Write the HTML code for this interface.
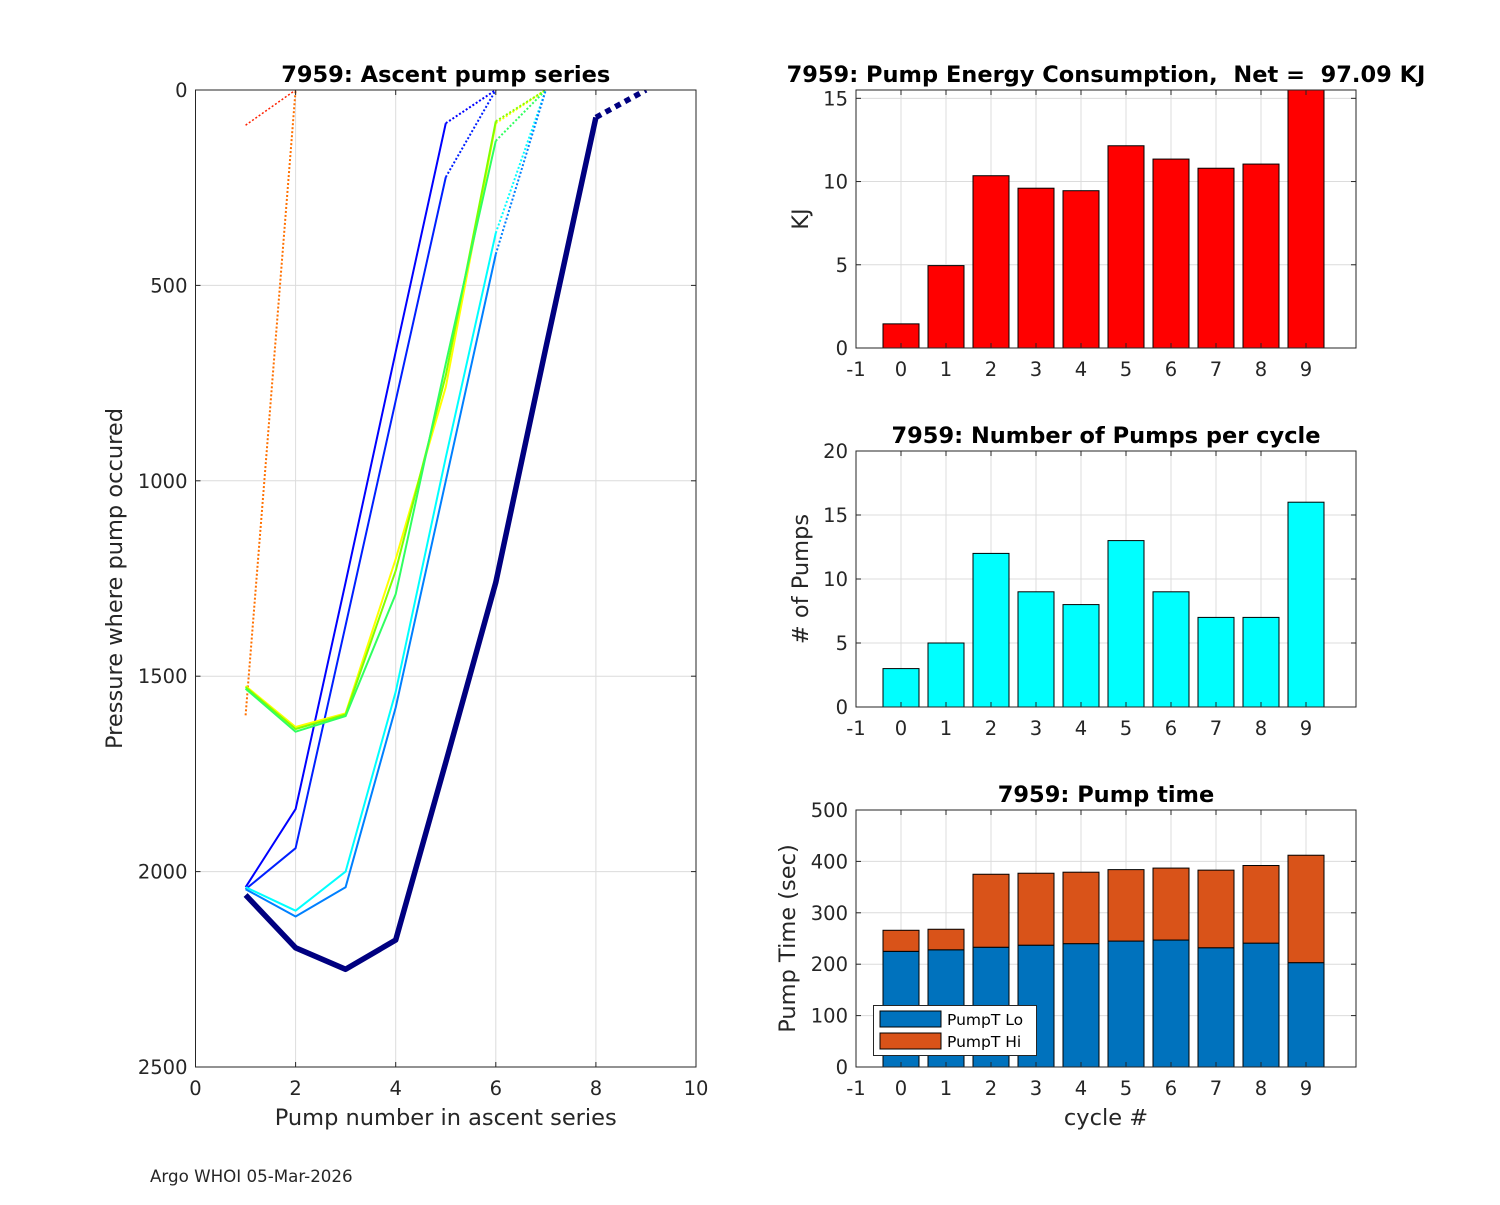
<!DOCTYPE html>
<html><head><meta charset="utf-8">
<style>
body{margin:0;background:#fff;}
svg text{font-family:"DejaVu Sans","Liberation Sans",sans-serif;fill:#262626;white-space:pre;}
.tk{font-size:19.5px;}
.ttl{font-size:22.5px;font-weight:bold;fill:#000;}
.lbl{font-size:22.5px;}
</style></head>
<body>
<svg id="fig" width="1500" height="1200" xmlns="http://www.w3.org/2000/svg" xml:space="preserve">
<rect width="1500" height="1200" fill="#fff"/>
<g id="left"></g>
<g id="c1"></g>
<g id="c2"></g>
<g id="c3"></g>
<text x="150" y="1182" style="font-size:16.7px" fill="#000">Argo WHOI 05-Mar-2026</text>
</svg>
<script>
// ---- Left chart data: pump number (x) and pressure (y); last point is the surface (dotted)
const seriesColors = ["#ff2000","#ff7000","#0000ff","#0020ff","#ffff00","#80ff00","#30ff60","#00ffff","#0080ff","#000080"];
const seriesWidths = [1.5,2,2,2,2,2,2,2,2,5.5];
const seriesX = [
 [1,2],[1,2],
 [1,2,3,4,5,6],[1,2,3,4,5,6],
 [1,2,3,4,5,6,7],[1,2,3,4,5,6,7],[1,2,3,4,5,6,7],
 [1,2,3,4,5,6,7],[1,2,3,4,5,6,7],
 [1,2,3,4,5,6,7,8,9]];
const seriesP = [
 [90,0],[1600,0],
 [2040,1840,1260,670,85,0],[2045,1940,1370,795,223,0],
 [1525,1630,1595,1200,760,85,0],[1528,1635,1598,1230,730,80,0],[1532,1642,1602,1290,700,130,0],
 [2040,2100,2000,1540,940,366,0],[2045,2115,2040,1580,1000,420,0],
 [2060,2195,2250,2175,1720,1260,660,70,0]];
const leftXTicks=[0,2,4,6,8,10];
const leftYTicks=[0,500,1000,1500,2000,2500];

// ---- Right charts data
const cycles=[0,1,2,3,4,5,6,7,8,9];
const cycleTicks=[-1,0,1,2,3,4,5,6,7,8,9];
const energyKJ=[1.45,4.95,10.35,9.6,9.45,12.15,11.35,10.8,11.05,15.94];
const energyTicks=[0,5,10,15];
const numPumps=[3,5,12,9,8,13,9,7,7,16];
const pumpTicks=[0,5,10,15,20];
const pumpLo=[225,228,233,237,240,245,247,232,241,203];
const pumpHi=[41,40,142,140,139,139,140,151,151,209];
const timeTicks=[0,100,200,300,400,500];

const NS="http://www.w3.org/2000/svg";
function mk(parent,tag,attrs){const e=document.createElementNS(NS,tag);for(const k in attrs)e.setAttribute(k,attrs[k]);parent.appendChild(e);return e;}

function axesFrame(g,L,T,R,B,xs,ys,xt,yt){
  xt.forEach(v=>{const x=xs(v);const l=mk(g,'line',{x1:x,x2:x,y1:T,y2:B,stroke:'#dcdcdc','stroke-width':1});
    });
  yt.forEach(v=>{const y=ys(v);const l=mk(g,'line',{x1:L,x2:R,y1:y,y2:y,stroke:'#dcdcdc','stroke-width':1});
    });
}
function axesOver(g,L,T,R,B,xs,ys,xt,yt,title,xl,yl,titleX){
  const f=mk(g,'rect',{x:L,y:T,width:R-L,height:B-T,fill:'none',stroke:'#262626','stroke-width':1});
  
  xt.forEach(v=>{const x=xs(v);
    mk(g,'line',{x1:x,x2:x,y1:B,y2:B-5,stroke:'#262626'});mk(g,'line',{x1:x,x2:x,y1:T,y2:T+5,stroke:'#262626'});
    const t=mk(g,'text',{x:x,y:B+28,'text-anchor':'middle',class:'tk'});t.textContent=v;
    });
  yt.forEach(v=>{const y=ys(v);
    mk(g,'line',{x1:L,x2:L+5,y1:y,y2:y,stroke:'#262626'});mk(g,'line',{x1:R,x2:R-5,y1:y,y2:y,stroke:'#262626'});
    const t=mk(g,'text',{x:L-8,y:y+7,'text-anchor':'end',class:'tk'});t.textContent=v;
    });
  const tt=mk(g,'text',{x:titleX||(L+R)/2,y:T-8,'text-anchor':'middle',class:'ttl'});tt.textContent=title;
  
  if(xl){const t=mk(g,'text',{x:(L+R)/2,y:B+58,'text-anchor':'middle',class:'lbl'});t.textContent=xl;
    }
  if(yl){const cx=yl[1],cy=(T+B)/2;const t=mk(g,'text',{x:cx,y:cy,'text-anchor':'middle',class:'lbl',transform:`rotate(-90 ${cx} ${cy})`});t.textContent=yl[0];
    }
}

// Left chart
(function(){
  const g=document.getElementById('left');
  const L=195.5,R=696,T=90,B=1067;
  const xs=v=>L+(v-0)/10*(R-L), ys=v=>T+v/2500*(B-T);
  axesFrame(g,L,T,R,B,xs,ys,leftXTicks,leftYTicks);
  const clip=mk(g,'clipPath',{id:'lc'});mk(clip,'rect',{x:L,y:T,width:R-L,height:B-T});
  const pg=mk(g,'g',{'clip-path':'url(#lc)'});
  seriesX.forEach((xsA,i)=>{
    const n=xsA.length;
    const pts=xsA.map((x,j)=>xs(x).toFixed(1)+','+ys(seriesP[i][j]).toFixed(1));
    const w=seriesWidths[i];
    if(n>2){const s=mk(pg,'polyline',{points:pts.slice(0,n-1).join(' '),fill:'none',stroke:seriesColors[i],'stroke-width':w,'stroke-linejoin':'round'});
      }
    const d=mk(pg,'polyline',{points:pts.slice(n-2).join(' '),fill:'none',stroke:seriesColors[i],'stroke-width':w,'stroke-dasharray':w>3?'6,5':'2,2'});
    
  });
  axesOver(g,L,T,R,B,xs,ys,leftXTicks,leftYTicks,'7959: Ascent pump series','Pump number in ascent series',['Pressure where pump occured',122]);
})();

function barChart(id,T,B,ymax,yt,stacks,colors,title,xl,yl,titleX){
  const g=document.getElementById(id);
  const L=856,R=1356;
  const xs=v=>L+(v+1)*45, ys=v=>B-v/ymax*(B-T);
  axesFrame(g,L,T,R,B,xs,ys,cycleTicks,yt);
  const clip=mk(g,'clipPath',{id:id+'c'});mk(clip,'rect',{x:L,y:T,width:R-L,height:B-T});
  const pg=mk(g,'g',{'clip-path':`url(#${id}c)`});
  cycles.forEach((c,i)=>{
    let base=0;
    stacks.forEach((arr,k)=>{
      const y0=ys(base),y1=ys(base+arr[i]);
      const r=mk(pg,'rect',{x:xs(c)-18,y:y1,width:36,height:y0-y1,fill:colors[k],stroke:'#000','stroke-width':1});
      
      base+=arr[i];
    });
  });
  axesOver(g,L,T,R,B,xs,ys,cycleTicks,yt,title,xl,yl,titleX);
  return g;
}
barChart('c1',90,348,15.5,energyTicks,[energyKJ],['#ff0000'],'7959: Pump Energy Consumption,  Net =  97.09 KJ',null,['KJ',808],1106);
barChart('c2',451,707,20,pumpTicks,[numPumps],['#00ffff'],'7959: Number of Pumps per cycle',null,['# of Pumps',808]);
const g3=barChart('c3',810,1067,500,timeTicks,[pumpLo,pumpHi],['#0072bd','#d95319'],'7959: Pump time','cycle #',['Pump Time (sec)',795]);
// legend
(function(){
  const lg=mk(g3,'g',{});
  mk(lg,'rect',{x:873.5,y:1005.5,width:163,height:50,fill:'#fff',stroke:'#262626'});
  const e1=mk(lg,'rect',{x:880,y:1011,width:61,height:16,fill:'#0072bd',stroke:'#000'});
  
  const e2=mk(lg,'rect',{x:880,y:1033,width:61,height:16,fill:'#d95319',stroke:'#000'});
  
  const t1=mk(lg,'text',{x:947,y:1025,style:'font-size:15.5px;fill:#000'});t1.textContent='PumpT Lo';
  
  const t2=mk(lg,'text',{x:947,y:1047,style:'font-size:15.5px;fill:#000'});t2.textContent='PumpT Hi';
  
})();
</script>
</body></html>
